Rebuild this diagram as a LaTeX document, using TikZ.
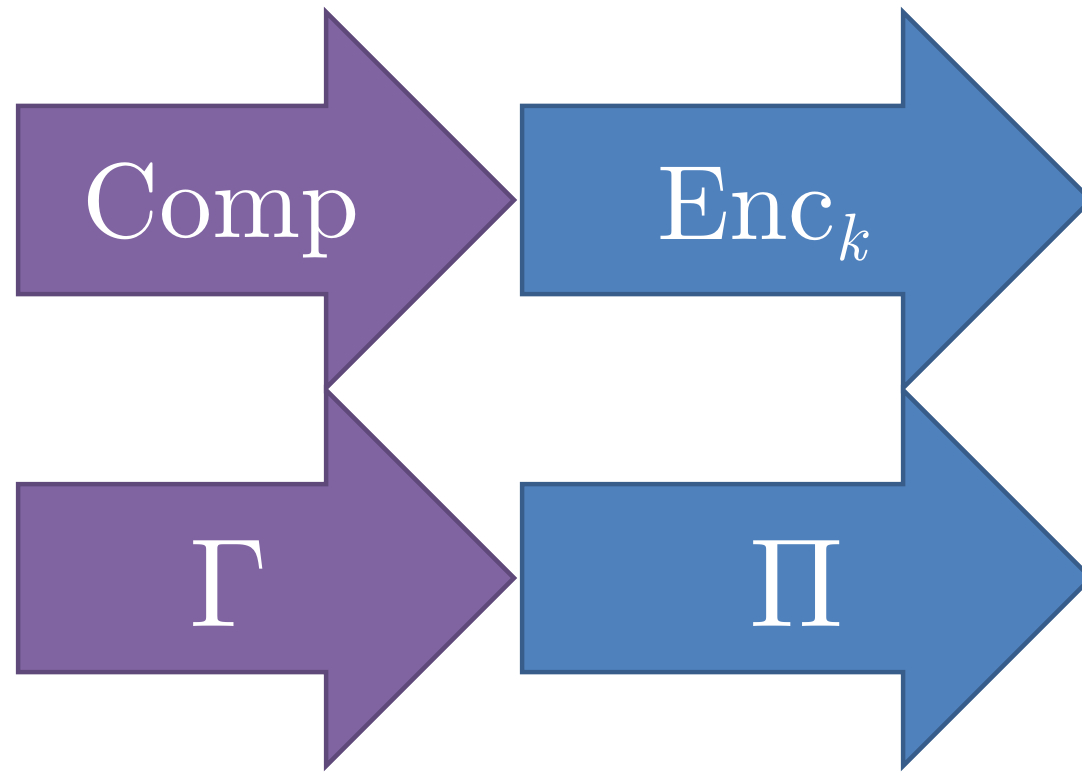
\documentclass[tikz,border=0pt]{standalone}
\usepackage{fontspec}
\setmainfont{lmroman10-regular.otf}[ItalicFont=lmroman10-italic.otf]
\begin{document}
\begin{tikzpicture}[x=1pt,y=-1pt,
  purplefill/.style={fill={rgb,255:red,128;green,100;blue,162}, draw={rgb,255:red,94;green,73;blue,122}},
  bluefill/.style={fill={rgb,255:red,79;green,129;blue,189}, draw={rgb,255:red,56;green,93;blue,138}},
  blockarrow/.style={line width=4.5pt, line join=miter},
  lbl/.style={text=white, inner sep=0pt, anchor=base},
  wordlbl/.style={lbl, font=\fontsize{106}{110}\selectfont},
  greeklbl/.style={lbl, font=\fontsize{126}{130}\selectfont}]
\useasboundingbox (0,0) rectangle (1082,773);
% #1 style, #2 tail left x, #3 head base x, #4 centre y
\newcommand\blockarrowpath[4]{%
  \path[blockarrow,#1] (#2,#4-94) -- (#3,#4-94) -- (#3,#4-188)
    -- (#3+188,#4) -- (#3,#4+188) -- (#3,#4+94) -- (#2,#4+94) -- cycle;}
% left column: purple arrows
\blockarrowpath{purplefill}{18}{326}{200}
\blockarrowpath{purplefill}{18}{326}{578}
% right column: blue arrows
\blockarrowpath{bluefill}{522}{903}{200}
\blockarrowpath{bluefill}{522}{903}{578}
% labels
\node[wordlbl] (comp) at (221,237) {Comp};
\node[wordlbl] (enc) at (762,239) {Enc\raisebox{-21pt}{\fontsize{67}{70}\selectfont\itshape k}};
\node[greeklbl] (gamma) at (229,626) {Γ};
\node[greeklbl] (pi) at (797,626) {Π};
\end{tikzpicture}
\end{document}
